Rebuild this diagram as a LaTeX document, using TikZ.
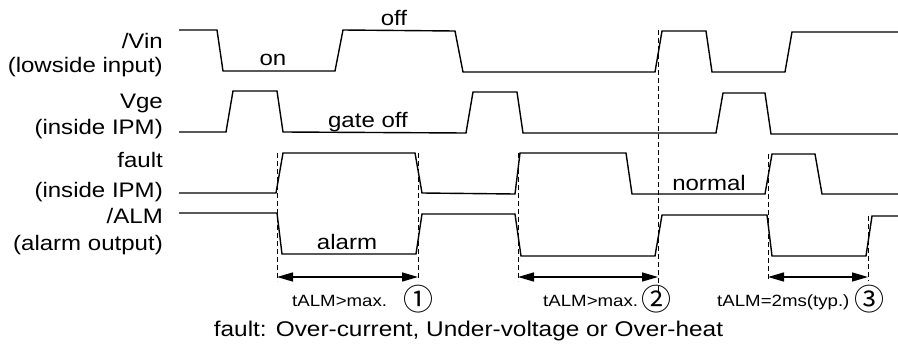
\documentclass[tikz,border=0pt]{standalone}
\usepackage{fontspec}
\setmainfont[FakeStretch=1.145]{Liberation Sans}
\newfontfamily\circfont{Noto Sans CJK JP}
\usetikzlibrary{arrows.meta}
\begin{document}
\begin{tikzpicture}[x=1pt,y=-1pt,
  wave/.style={line width=1.4pt, line join=miter},
  guide/.style={line width=1pt, dash pattern=on 5pt off 3pt},
  span/.style={line width=1.4pt, {Triangle[length=16pt,width=9pt]}-{Triangle[length=16pt,width=9pt]}},
  lbl/.style={anchor=base east, inner sep=0, font=\fontsize{21}{24}\selectfont},
  txt/.style={anchor=base, inner sep=0, font=\fontsize{21}{24}\selectfont},
  small/.style={anchor=base west, inner sep=0, font=\fontsize{16.3}{19}\selectfont},
  circ/.style={anchor=base, inner sep=0, font=\circfont\fontsize{30}{32}\selectfont}]
\useasboundingbox (0,0) rectangle (898,351);
% labels
\node[lbl] (l1) at (163,48) {/Vin};
\node[lbl] (l2) at (163,72) {(lowside input)};
\node[lbl] (l3) at (163,108) {Vge};
\node[lbl] (l4) at (163,134) {(inside IPM)};
\node[lbl] (l5) at (163,167) {fault};
\node[lbl] (l6) at (163,197) {(inside IPM)};
\node[lbl] (l7) at (163,223) {/ALM};
\node[lbl] (l8) at (163,250) {(alarm output)};
% waveforms
\draw[wave] (179,30) -- (217,30) -- (223,71) -- (335,71) -- (343,30) -- (455,31) -- (463,72) -- (655,72) -- (662,31) -- (706,31) -- (712,72) -- (785,72) -- (792,32) -- (898,32);
\draw[wave] (179,132) -- (226,132) -- (233,91) -- (277,91) -- (283,132) -- (466,133) -- (473,92) -- (517,92) -- (523,133) -- (716,133) -- (723,93) -- (765,93) -- (771,134) -- (898,134);
\draw[wave] (179,193) -- (276,193) -- (283,153) -- (415,153) -- (422,193) -- (515,194) -- (520,153) -- (626,153) -- (632,194) -- (765,194) -- (772,154) -- (815,154) -- (822,194) -- (898,194);
\draw[wave] (179,213) -- (277,213) -- (282,254) -- (416,254) -- (422,214) -- (515,214) -- (521,256) -- (655,256) -- (662,215) -- (767,215) -- (772,256) -- (866,256) -- (872,216) -- (898,216);
% state texts
\node[txt] (off) at (394,25) {off};
\node[txt] (on) at (273,65) {on};
\node[txt] (goff) at (368,127) {gate off};
\node[txt] (norm) at (709,190) {normal};
\node[txt] (alarm) at (347,249) {alarm};
% guides
\coordinate (g1t) at (277,153); \coordinate (g1b) at (277,281);
\coordinate (g2t) at (418,153); \coordinate (g2b) at (418,281);
\coordinate (g3t) at (518,153); \coordinate (g3b) at (518,281);
\coordinate (g4t) at (658,30);  \coordinate (g4b) at (658,292);
\coordinate (g5t) at (768,154); \coordinate (g5b) at (768,281);
\coordinate (g6t) at (868,216); \coordinate (g6b) at (868,281);
\foreach \g in {1,...,6} {\draw[guide] (g\g t) -- (g\g b);}
% spans
\coordinate (a1l) at (277,277); \coordinate (a1r) at (418,277);
\coordinate (a2l) at (518,277); \coordinate (a2r) at (658,277);
\coordinate (a3l) at (768,277); \coordinate (a3r) at (868,277);
\draw[span] (a1l) -- (a1r);
\draw[span] (a2l) -- (a2r);
\draw[span] (a3l) -- (a3r);
% span labels
\node[small] (t1) at (292,306) {tALM>max.};
\node[circ] (c1) at (418,310) {①};
\node[small] (t2) at (543,306) {tALM>max.};
\node[circ] (c2) at (656.5,310) {②};
\node[small] (t3) at (717,306) {tALM=2ms(typ.)};
\node[circ] (c3) at (869,310) {③};
% caption
\node[anchor=base, inner sep=0, font=\fontsize{21.3}{24}\selectfont] (cap) at (468.5,336) {fault: Over-current, Under-voltage or Over-heat};
\end{tikzpicture}
\end{document}
